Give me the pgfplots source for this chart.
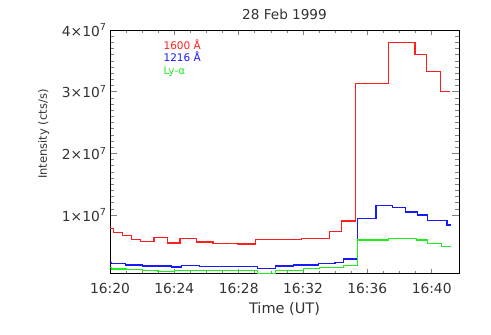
\documentclass[border=0pt]{standalone}
\usepackage{pgfplots}
\pgfplotsset{compat=1.18}
\usepackage{fontspec}
\setmainfont{DejaVu Sans}
\definecolor{txt}{gray}{0.2}
\definecolor{cred}{RGB}{255,30,30}
\definecolor{cblue}{RGB}{25,25,255}
\definecolor{cgreen}{RGB}{30,240,30}

\begin{document}
\begin{tikzpicture}
% white page background (axis sits with its south west corner at the origin)
\fill[white] (-110pt,-61.3pt) rectangle (381pt,273.7pt);
\begin{axis}[
    at={(0,0)}, anchor=south west,
    width=349pt, height=243.7pt,
    scale only axis,
    xmin=0, xmax=21.7,
    ymin=0.05, ymax=4,
    xtick={0,4,8,12,16,20},
    xticklabels={16:20,16:24,16:28,16:32,16:36,16:40},
    minor x tick num=3,
    ytick={1,2,3,4},
    yticklabels={1×10\textsuperscript{7},2×10\textsuperscript{7},3×10\textsuperscript{7},4×10\textsuperscript{7}},
    minor y tick num=9,
    tick align=inside,
    xtick style={/pgfplots/major tick length=5pt,/pgfplots/minor tick length=2.7pt,line width=0.6pt},
    ytick style={/pgfplots/major tick length=7pt,/pgfplots/minor tick length=3.7pt,line width=0.6pt},
    axis line style={line width=0.8pt},
    ticklabel style={font=\fontsize{13.8}{16}\selectfont, text=txt},
    xticklabel style={yshift=-6pt},
    title={28 Feb 1999},
    title style={at={(axis description cs:0.5,1)}, anchor=base, yshift=5pt, font=\fontsize{13.6}{16}\selectfont, text=txt},
    xlabel={Time (UT)},
    xlabel style={at={(axis description cs:0.5,-0.163)}, anchor=base, font=\fontsize{14.5}{16}\selectfont, text=txt},
    ylabel={Intensity (cts/s)},
    ylabel style={at={(axis description cs:-0.19,0.573)}, anchor=center, font=\fontsize{11.5}{13}\selectfont, text=txt},
    every axis plot/.append style={line width=1.2pt, const plot},
]
% 1600 A
\addplot[color=cred] coordinates {
(0,0.785) (0.22,0.714) (0.80,0.672) (1.36,0.607) (1.90,0.574) (2.73,0.639)
(3.60,0.547) (4.35,0.623) (5.37,0.563) (6.40,0.542) (7.93,0.530) (9.05,0.607)
(11.91,0.616) (13.65,0.738) (14.40,0.904) (15.28,3.137) (17.30,3.796)
(18.97,3.607) (19.66,3.325) (20.57,3.001) (21.17,3.001)};
% 1216 A
\addplot[color=cblue] coordinates {
(0,0.234) (0.11,0.211) (0.95,0.190) (2.01,0.174) (3.81,0.157) (4.47,0.178)
(5.58,0.169) (6.51,0.162) (9.15,0.130) (10.29,0.174) (11.39,0.190) (12.95,0.210)
(13.99,0.235) (14.50,0.287) (15.38,0.950) (16.54,1.152) (17.56,1.126)
(18.35,1.050) (19.10,1.000) (19.75,0.910) (20.95,0.839) (21.22,0.839)};
% Ly-alpha
\addplot[color=cgreen] coordinates {
(0,0.146) (0.07,0.125) (1.01,0.114) (2.01,0.104) (2.98,0.092) (4.02,0.104)
(5.06,0.107) (9.15,0.055) (10.29,0.107) (12.01,0.136) (13.01,0.150)
(14.50,0.185) (15.38,0.595) (17.30,0.621) (19.05,0.595) (19.75,0.541)
(20.62,0.497) (21.22,0.497)};
\node[anchor=base west, inner sep=0, text=cred, font=\fontsize{10.5}{12}\selectfont] at (axis description cs:0.153,0.921) {1600 Å};
\node[anchor=base west, inner sep=0, text=cblue, font=\fontsize{10.5}{12}\selectfont] at (axis description cs:0.153,0.870) {1216 Å};
\node[anchor=base west, inner sep=0, text=cgreen, font=\fontsize{10.5}{12}\selectfont] at (axis description cs:0.153,0.819) {Ly-α};
\end{axis}
\pgfresetboundingbox
\path (-110pt,-61.3pt) rectangle (381pt,273.7pt);
\end{tikzpicture}
\end{document}
